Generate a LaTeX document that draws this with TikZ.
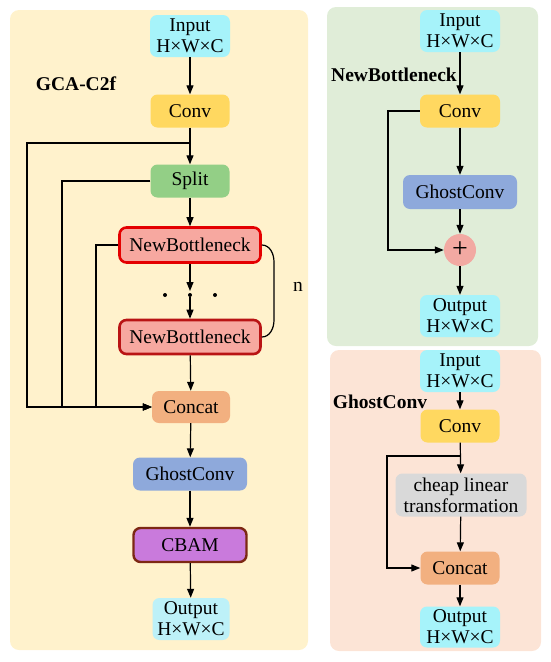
\documentclass[tikz,border=0pt]{standalone}
\usepackage{fontspec}
\setmainfont{Liberation Serif}
\usetikzlibrary{arrows.meta,calc}
\definecolor{panelY}{HTML}{FFF2CC}
\definecolor{panelG}{HTML}{E0EDD8}
\definecolor{panelP}{HTML}{FCE4D6}
\definecolor{cyanIn}{HTML}{A6F3FA}
\definecolor{cyanOut}{HTML}{BDF1F8}
\definecolor{convC}{HTML}{FFD860}
\definecolor{splitC}{HTML}{93CF86}
\definecolor{nbC}{HTML}{F7A8A0}
\definecolor{ghostC}{HTML}{8EA9DB}
\definecolor{concatC}{HTML}{F2B080}
\definecolor{cbamC}{HTML}{C97ADC}
\definecolor{greyC}{HTML}{D9D9D9}
\definecolor{plusC}{HTML}{F2A9A2}
\tikzset{
  x=1pt,y=-1pt,
  box/.style={rounded corners=7pt,inner sep=0pt,align=center,
    font=\fontsize{19.5}{21}\selectfont},
  twoline/.style={box,minimum width=80pt,minimum height=42pt},
  oneline/.style={box,minimum height=33pt},
  arr/.style={line width=1.2pt,-{Triangle[length=9pt,width=7pt]}},
  ln/.style={line width=1.2pt},
  ttl/.style={font=\fontsize{19.5}{21}\selectfont\bfseries,inner sep=0pt},
}
\begin{document}
\begin{tikzpicture}
\useasboundingbox (0,0) rectangle (550,662);
% panels
\fill[panelY,rounded corners=9pt] (10,10) rectangle (308,650);
\fill[panelG,rounded corners=9pt] (327,7) rectangle (538,346);
\fill[panelP,rounded corners=9pt] (330,350) rectangle (541,651);

% ---------- GCA-C2f ----------
\node[ttl] (t1) at (76,84) {GCA-C2f};
\node[twoline,fill=cyanIn] (in1) at (190,36) {Input\\H×W×C};
\node[oneline,minimum width=79pt,fill=convC] (conv1) at (190,111) {Conv};
\node[oneline,minimum width=79pt,fill=splitC] (split) at (190,181) {Split};
\node[oneline,minimum width=141pt,minimum height=35pt,fill=nbC,draw={rgb,255:red,228;green,0;blue,0},line width=2.6pt] (nb1) at (190,245) {NewBottleneck};
\node[oneline,minimum width=141pt,minimum height=34pt,fill=nbC,draw={rgb,255:red,185;green,20;blue,20},line width=2.6pt] (nb2) at (190,337) {NewBottleneck};
\node[oneline,minimum width=78pt,minimum height=32pt,fill=concatC] (cat1) at (191,407) {Concat};
\node[oneline,minimum width=114pt,minimum height=33pt,fill=ghostC] (gc1) at (190,474) {GhostConv};
\node[oneline,minimum width=113pt,minimum height=34pt,fill=cbamC,draw={rgb,255:red,125;green,40;blue,20},line width=2.4pt] (cbam) at (190,545) {CBAM};
\node[twoline,minimum width=77pt,fill=cyanOut] (out1) at (191,619) {Output\\H×W×C};
\node[font=\fontsize{19.5}{21}\selectfont,inner sep=0pt] (nlab) at (298,287) {n};
% dots
\node[circle,fill,inner sep=0pt,minimum size=4pt] (dl) at (165,295) {};
\node[circle,fill,inner sep=0pt,minimum size=4pt] (dm) at (190,295) {};
\node[circle,fill,inner sep=0pt,minimum size=4pt] (dr) at (215,295) {};

\draw[arr] (in1) -- (conv1);
\draw[arr] (conv1) -- (split);
\draw[arr] (split) -- (nb1);
\draw[arr] (nb1.south) -- ($(dm)+(0,-4)$);
\draw[arr] (dm) -- (nb2.north);
\draw[arr] (nb2) -- (cat1);
\draw[arr] (cat1) -- (gc1);
\draw[arr] (gc1) -- (cbam);
\draw[arr] (cbam) -- (out1);
\coordinate (b1) at (190,143);
\coordinate (l1) at (27,143);
\coordinate (l2) at (62,181);
\coordinate (l3) at (96,245);
\draw[arr] (b1) -- (l1) |- (cat1.west);
\draw[arr] (split.west) -- (l2) |- (cat1.west);
\draw[arr] (nb1.west) -- (l3) |- (cat1.west);
\draw[ln] (nb1.east) to[out=0,in=90] (274,262) -- (274,320) to[out=-90,in=0] (nb2.east);

% ---------- NewBottleneck ----------
\node[ttl] (t2) at (394,75) {NewBottleneck};
\node[twoline,fill=cyanIn] (in2) at (460,31) {Input\\H×W×C};
\node[oneline,minimum width=80pt,fill=convC] (conv2) at (460,111) {Conv};
\node[oneline,minimum width=114pt,minimum height=34pt,fill=ghostC] (gc2) at (460,192) {GhostConv};
\node[circle,fill=plusC,minimum size=32pt,inner sep=0pt,font=\fontsize{28}{28}\selectfont] (plus) at (460,250) {+};
\node[twoline,fill=cyanIn] (out2) at (460,316) {Output\\H×W×C};
\draw[arr] (in2) -- (conv2);
\draw[arr] (conv2) -- (gc2);
\draw[arr] (gc2) -- (plus);
\draw[arr] (plus) -- (out2);
\coordinate (s2) at (388,111);
\draw[arr] (conv2.west) -- (s2) |- (plus.west);

% ---------- GhostConv ----------
\node[ttl] (t3) at (380,402) {GhostConv};
\node[twoline,minimum height=42pt,fill=cyanIn] (in3) at (460,371) {Input\\H×W×C};
\node[oneline,minimum width=79pt,fill=convC] (conv3) at (460,426) {Conv};
\node[oneline,minimum width=131pt,minimum height=43pt,fill=greyC] (clt) at (461,495) {cheap linear\\transformation};
\node[oneline,minimum width=79pt,fill=concatC] (cat3) at (460,568) {Concat};
\node[twoline,minimum height=41pt,fill=cyanIn] (out3) at (460,627) {Output\\H×W×C};
\draw[arr] (in3) -- (conv3);
\draw[arr] (conv3) -- (clt);
\draw[arr] (clt) -- (cat3);
\draw[arr] (cat3) -- (out3);
\coordinate (b3) at (460,456);
\coordinate (s3) at (387,456);
\draw[arr] (b3) -- (s3) |- (cat3.west);
\end{tikzpicture}
\end{document}
